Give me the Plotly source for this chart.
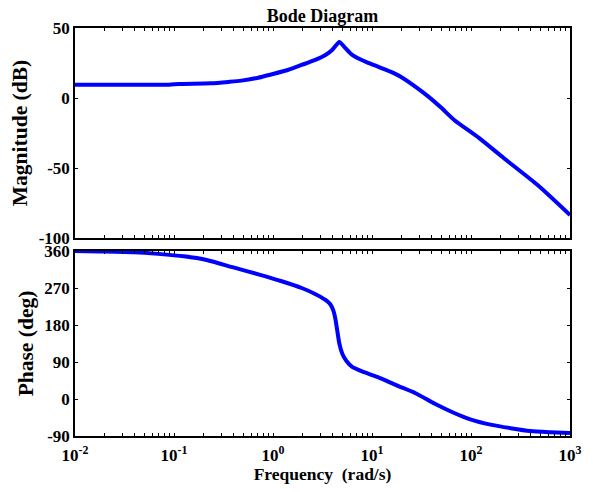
import plotly.graph_objects as go
from plotly.subplots import make_subplots

# Magnitude (dB) vs log10 frequency
mag_logw = [-2.0, -1.5, -1.05, -0.95, -0.63, -0.45, -0.32, -0.15, -0.01, 0.15, 0.29, 0.42, 0.53, 0.60, 0.67, 0.72, 0.78, 0.83, 0.95, 1.06, 1.18, 1.29, 1.43, 1.57, 1.70, 1.83, 2.08, 2.33, 2.67, 3.0]
mag_db = [9.5, 9.5, 9.5, 10.0, 10.5, 11.5, 12.4, 14.5, 17.0, 20.0, 23.6, 27.0, 30.7, 34.5, 40.0, 36.5, 32.0, 29.5, 25.5, 22.4, 19.0, 15.2, 8.5, 1.0, -7.0, -15.7, -28.5, -42.9, -62.0, -83.6]

# Phase (deg) vs log10 frequency
ph_logw = [-2.0, -1.75, -1.4, -1.16, -0.9, -0.67, -0.4, -0.13, 0.08, 0.29, 0.43, 0.53, 0.58, 0.61, 0.63, 0.65, 0.67, 0.70, 0.74, 0.80, 0.9, 1.06, 1.25, 1.44, 1.63, 1.83, 2.0, 2.21, 2.4, 2.6, 2.8, 3.0]
ph_deg = [360, 359, 357, 353, 347, 338, 320, 302, 287, 270, 255, 241, 230, 215, 195, 165, 135, 110, 93, 78, 67, 53, 33, 14, -11, -34, -50, -63, -71, -78, -81, -83]

mag_w = [10 ** v for v in mag_logw]
ph_w = [10 ** v for v in ph_logw]

decades = [-2, -1, 0, 1, 2, 3]
x_tickvals = []
x_ticktext = []
for d in decades:
    for m in range(1, 10):
        if d == 3 and m > 1:
            break
        x_tickvals.append(m * 10 ** d)
        x_ticktext.append(f"<b>10<sup>{d}</sup></b>" if m == 1 else "")

mag_ticks = [-100, -50, 0, 50]
ph_ticks = [-90, 0, 90, 180, 270, 360]

# page body has an 8px margin, so the figure is sized to fit the 593x492 window
off = 8
W, H = 593 - 2 * off, 492 - 2 * off
l, r, t, b = 75 - off, (W + off) - 570, 28 - off, (H + off) - 436
plot_h = H - t - b
top_lo = (436 - 238) / plot_h
bot_hi = (436 - 251) / plot_h

fig = make_subplots(rows=2, cols=1)
blue = "#0000FF"
fig.add_trace(go.Scatter(x=mag_w, y=mag_db, mode="lines",
                         line=dict(color=blue, width=4, shape="spline", smoothing=0.6)), row=1, col=1)
fig.add_trace(go.Scatter(x=ph_w, y=ph_deg, mode="lines",
                         line=dict(color=blue, width=4, shape="spline", smoothing=0.6)), row=2, col=1)

fam = "Liberation Serif, Times New Roman, serif"
font = dict(family=fam, size=17, color="black")
axcommon = dict(showline=True, linecolor="black", linewidth=1.5, mirror="allticks",
                ticks="inside", ticklen=3, tickcolor="black", showgrid=False, zeroline=False,
                automargin=False,
                tickfont=dict(family=fam, size=17, color="black"))

fig.update_layout(
    width=W, height=H,
    margin=dict(l=l, r=r, t=t, b=b),
    paper_bgcolor="white", plot_bgcolor="white",
    showlegend=False,
    font=font,
    title=dict(text="<b>Bode Diagram</b>", x=(l + W - r) / 2 / W, xanchor="center",
               y=1 - 8 / H, yanchor="middle", font=dict(family=fam, size=18, color="black"),
               automargin=False),
    xaxis=dict(type="log", range=[-2, 3], domain=[0, 1], tickvals=x_tickvals, ticktext=x_ticktext,
               showticklabels=False, **axcommon),
    xaxis2=dict(type="log", range=[-2, 3], domain=[0, 1], tickvals=x_tickvals, ticktext=x_ticktext,
                showticklabels=True, ticklabelstandoff=3,
                title=dict(text="<b>Frequency  (rad/s)</b>", standoff=2,
                           font=dict(family=fam, size=17.5, color="black")),
                **axcommon),
    yaxis=dict(domain=[top_lo, 1], range=[-100, 50], tickvals=mag_ticks,
               ticktext=[f"<b>{v}</b>" for v in mag_ticks],
               title=dict(text="<b>Magnitude (dB)</b>", standoff=5,
                          font=dict(family=fam, size=21.5, color="black")),
               **axcommon),
    yaxis2=dict(domain=[0, bot_hi], range=[-90, 360], tickvals=ph_ticks,
                ticktext=[f"<b>{v}</b>" for v in ph_ticks],
                title=dict(text="<b>Phase (deg)</b>", standoff=5,
                           font=dict(family=fam, size=21.5, color="black")),
                **axcommon),
)

fig.write_html("out.html")
